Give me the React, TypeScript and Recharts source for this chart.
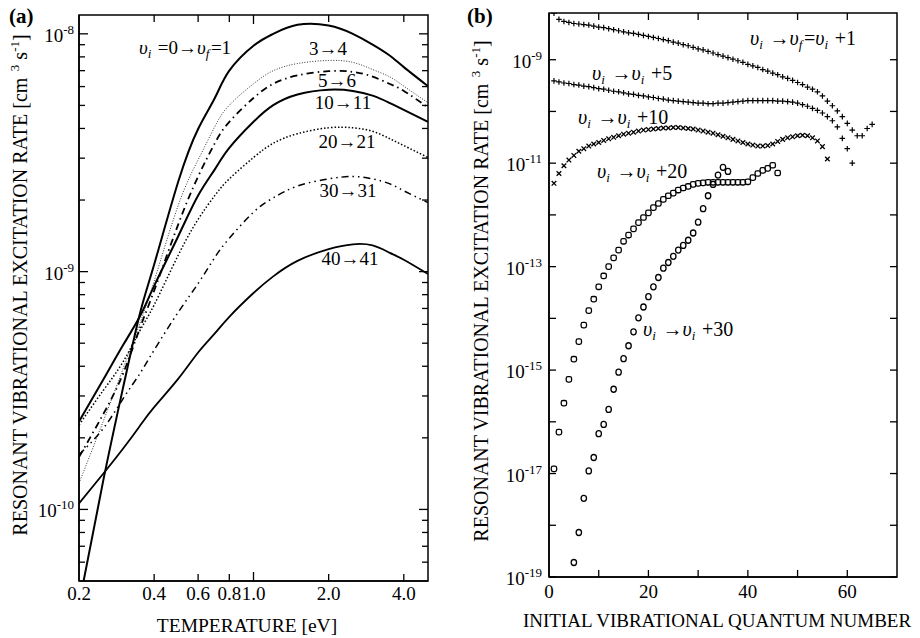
import { LineChart, Line, ScatterChart, Scatter, XAxis, YAxis } from 'recharts';

const SERIF = '"Liberation Serif", "Times New Roman", Times, serif';

// ---- (a) rate coefficient vs temperature, stored as log10(rate / cm^3 s^-1)
const temperatures = [0.2, 0.25, 0.3, 0.35, 0.4, 0.5, 0.6, 0.7, 0.8, 1.0, 1.2, 1.5, 2.0, 2.5, 3.0, 3.5, 4.0, 5.0];
const lgRate0to1 = [-10.4, -9.88, -9.49, -9.18, -8.97, -8.62, -8.4, -8.27, -8.155, -8.05, -8.0, -7.962, -7.965, -8.0, -8.045, -8.09, -8.14, -8.22];
const lgRate3to4 = [-9.89, -9.63, -9.41, -9.22, -9.04, -8.72, -8.53, -8.39, -8.3, -8.21, -8.155, -8.125, -8.112, -8.12, -8.15, -8.18, -8.22, -8.29];
const lgRate5to6 = [-9.78, -9.6, -9.43, -9.24, -9.08, -8.8, -8.6, -8.46, -8.37, -8.27, -8.21, -8.175, -8.157, -8.16, -8.18, -8.21, -8.24, -8.31];
const lgRate10to11 = [-9.63, -9.455, -9.31, -9.19, -9.06, -8.85, -8.68, -8.57, -8.48, -8.37, -8.3, -8.255, -8.235, -8.24, -8.26, -8.29, -8.32, -8.37];
const lgRate20to21 = [-9.645, -9.5, -9.38, -9.25, -9.14, -8.93, -8.78, -8.68, -8.61, -8.52, -8.46, -8.42, -8.395, -8.395, -8.41, -8.44, -8.47, -8.52];
const lgRate30to31 = [-9.77, -9.66, -9.535, -9.43, -9.33, -9.17, -9.05, -8.94, -8.86, -8.75, -8.69, -8.64, -8.61, -8.6, -8.61, -8.63, -8.66, -8.71];
const lgRate40to41 = [-9.975, -9.85, -9.745, -9.65, -9.57, -9.45, -9.34, -9.26, -9.19, -9.09, -9.02, -8.955, -8.905, -8.885, -8.89, -8.92, -8.95, -9.01];

const tempTicks = [0.2, 0.4, 0.6, 0.8, 1.0, 2.0, 4.0];
const rateTicksA = [
    6e-11, 7e-11, 8e-11, 9e-11, 1e-10, 2e-10, 3e-10, 4e-10, 5e-10, 6e-10, 7e-10, 8e-10, 9e-10,
    1e-9, 2e-9, 3e-9, 4e-9, 5e-9, 6e-9, 7e-9, 8e-9, 9e-9, 1e-8,
];

// ---- (b) rate vs initial level, log10 values, one entry per level starting at the given level
const startPlus1 = 1;
const lgPlus1 = [
    -8.1, -8.22, -8.26, -8.28, -8.3, -8.31, -8.32, -8.33, -8.35, -8.37,
    -8.38, -8.4, -8.42, -8.44, -8.46, -8.48, -8.49, -8.51, -8.53, -8.55,
    -8.57, -8.59, -8.61, -8.63, -8.66, -8.68, -8.71, -8.73, -8.76, -8.79,
    -8.81, -8.84, -8.87, -8.9, -8.93, -8.96, -8.99, -9.02, -9.05, -9.09,
    -9.12, -9.15, -9.19, -9.22, -9.26, -9.29, -9.33, -9.36, -9.4, -9.44,
    -9.48, -9.53, -9.57, -9.62, -9.7, -9.8, -9.89, -9.99, -10.1, -10.23,
    -10.36, -10.47, -10.47, -10.33, -10.25,
];
const startPlus5 = 1;
const lgPlus5 = [
    -9.41, -9.43, -9.45, -9.46, -9.48, -9.49, -9.51, -9.52, -9.54, -9.56,
    -9.57, -9.59, -9.61, -9.62, -9.64, -9.66, -9.67, -9.69, -9.7, -9.72,
    -9.73, -9.75, -9.76, -9.78, -9.79, -9.8, -9.81, -9.82, -9.83, -9.84,
    -9.84, -9.85, -9.85, -9.84, -9.84, -9.83, -9.82, -9.81, -9.8, -9.79,
    -9.79, -9.79, -9.79, -9.79, -9.79, -9.8, -9.8, -9.81, -9.82, -9.84,
    -9.87, -9.9, -9.94, -9.98, -10.03, -10.1, -10.18, -10.3, -10.52, -10.72,
    -11.0,
];
const startPlus10 = 1;
const lgPlus10 = [
    -11.39, -11.2, -11.05, -10.94, -10.85, -10.77, -10.72, -10.67, -10.63, -10.6,
    -10.56, -10.53, -10.5, -10.47, -10.44, -10.42, -10.4, -10.38, -10.36, -10.35,
    -10.34, -10.33, -10.32, -10.32, -10.31, -10.31, -10.32, -10.33, -10.34, -10.36,
    -10.38, -10.4, -10.42, -10.45, -10.48, -10.51, -10.54, -10.57, -10.6, -10.63,
    -10.65, -10.67, -10.67, -10.66, -10.63, -10.58, -10.54, -10.51, -10.49, -10.47,
    -10.46, -10.47, -10.51, -10.57, -10.68, -10.92,
];
const startPlus20 = 1;
const lgPlus20 = [
    -16.91, -16.2, -15.64, -15.18, -14.79, -14.45, -14.13, -13.85, -13.63, -13.39,
    -13.18, -13.0, -12.83, -12.68, -12.51, -12.39, -12.27, -12.15, -12.05, -11.96,
    -11.86, -11.78, -11.7, -11.63, -11.58, -11.52, -11.48, -11.45, -11.41, -11.39,
    -11.38, -11.37, -11.37, -11.37, -11.37, -11.37, -11.37, -11.37, -11.37, -11.36,
    -11.28, -11.2, -11.14, -11.1, -11.04, -11.19,
];
const startPlus30 = 5;
const lgPlus30 = [
    -18.72, -18.14, -17.48, -16.95, -16.69, -16.23, -16.05, -15.76, -15.37, -15.04,
    -14.78, -14.53, -14.26, -13.99, -13.78, -13.58, -13.39, -13.21, -13.03, -12.92,
    -12.8, -12.68, -12.59, -12.49, -12.35, -12.14, -11.88, -11.63, -11.41, -11.23,
    -11.08, -11.16,
];

const levelTicks = [0, 10, 20, 30, 40, 50, 60, 70];
const rateTicksB = [1e-19, 1e-18, 1e-17, 1e-16, 1e-15, 1e-14, 1e-13, 1e-12, 1e-11, 1e-10, 1e-9];

// plot-area boxes, in each chart's own coordinates
const PLOT_A = { left: 79, top: 15, w: 349, h: 566 };
const PLOT_B = { left: 89, top: 13, w: 348, h: 564 };

const rowsA = temperatures.map((t, i) => ({
    t,
    r0: 10 ** lgRate0to1[i],
    r3: 10 ** lgRate3to4[i],
    r5: 10 ** lgRate5to6[i],
    r10: 10 ** lgRate10to11[i],
    r20: 10 ** lgRate20to21[i],
    r30: 10 ** lgRate30to31[i],
    r40: 10 ** lgRate40to41[i],
}));

const toPoints = (start: number, lg: number[]) => lg.map((e, i) => ({ v: start + i, k: 10 ** e }));

const isDecade = (v: number) => {
    const e = Math.log10(v);
    return Math.abs(e - Math.round(e)) < 1e-6;
};

function PowerLabel({ x, y, exp }: { x: number; y: number; exp: number }) {
    return (
        <text x={x} y={y} textAnchor="end" fontFamily={SERIF} fontSize={19} fill="#000">
            10<tspan fontSize={13} dy={-8}>{`-${-exp}`}</tspan>
        </text>
    );
}

function RateTickA({ x, y, payload }: any) {
    const v = payload.value;
    const major = isDecade(v);
    const len = major ? 9 : 6;
    return (
        <g>
            <line x1={x} y1={y} x2={x + len} y2={y} stroke="#000" strokeWidth={1.3} />
            <line x1={x + PLOT_A.w} y1={y} x2={x + PLOT_A.w - len} y2={y} stroke="#000" strokeWidth={1.3} />
            {major && <PowerLabel x={x - 5} y={y + 8} exp={Math.round(Math.log10(v))} />}
        </g>
    );
}

function TempTick({ x, y, payload }: any) {
    const v = payload.value;
    const len = v === 1 ? 9 : 7;
    return (
        <g>
            {v > 0.2 && <line x1={x} y1={y} x2={x} y2={y - len} stroke="#000" strokeWidth={1.3} />}
            {v > 0.2 && <line x1={x} y1={y - PLOT_A.h} x2={x} y2={y - PLOT_A.h + len} stroke="#000" strokeWidth={1.3} />}
            <text x={x} y={y + 19} textAnchor="middle" fontFamily={SERIF} fontSize={19} fill="#000">
                {v.toFixed(1)}
            </text>
        </g>
    );
}

function RateTickB({ x, y, payload }: any) {
    const e = Math.round(Math.log10(payload.value));
    return (
        <g>
            <line x1={x} y1={y} x2={x + 7} y2={y} stroke="#000" strokeWidth={1.3} />
            <line x1={x + PLOT_B.w} y1={y} x2={x + PLOT_B.w - 7} y2={y} stroke="#000" strokeWidth={1.3} />
            {e % 2 !== 0 && <PowerLabel x={x - 7} y={y + 8} exp={e} />}
        </g>
    );
}

function LevelTick({ x, y, payload }: any) {
    const v = payload.value;
    const inner = v > 0 && v < 70;
    return (
        <g>
            {inner && <line x1={x} y1={y} x2={x} y2={y - 7} stroke="#000" strokeWidth={1.3} />}
            {inner && <line x1={x} y1={y - PLOT_B.h} x2={x} y2={y - PLOT_B.h + 7} stroke="#000" strokeWidth={1.3} />}
            {v % 20 === 0 && (
                <text x={x} y={y + 21} textAnchor="middle" fontFamily={SERIF} fontSize={19} fill="#000">
                    {v}
                </text>
            )}
        </g>
    );
}

// italic upsilon with a small subscript
function Ups({ sub }: { sub: string }) {
    return (
        <>
            <tspan fontStyle="italic">υ</tspan>
            <tspan fontStyle="italic" fontSize={13} dy={4}>{sub}</tspan>
            <tspan dy={-4}>{'\u200a'}</tspan>
        </>
    );
}

function Transition({ x, y, to }: { x: number; y: number; to: string }) {
    return (
        <text x={x} y={y} fontFamily={SERIF} fontSize={20} fill="#000">
            <Ups sub="i" />
            {' \u2192'}
            <Ups sub="i" />
            {` ${to}`}
        </text>
    );
}

function RateTitle({ x, y }: { x: number; y: number }) {
    return (
        <text transform={`translate(${x},${y}) rotate(-90)`} textAnchor="middle" fontFamily={SERIF} fontSize={20} fill="#000">
            RESONANT VIBRATIONAL EXCITATION RATE [cm
            <tspan fontSize={13} dy={-8}>{'\u00a0\u00a03'}</tspan>
            <tspan dy={8}>{' s'}</tspan>
            <tspan fontSize={13} dy={-8}>-1</tspan>
            <tspan dy={8}>]</tspan>
        </text>
    );
}

function CurveLabel({ x, y, text }: { x: number; y: number; text: string }) {
    return (
        <text x={x} y={y} textAnchor="middle" fontFamily={SERIF} fontSize={19} fill="#000">
            {text}
        </text>
    );
}

export default function App() {
    const line = { type: 'natural' as const, stroke: '#000', dot: false, isAnimationActive: false };

    return (
        <div style={{ position: 'fixed', left: 0, top: 0, width: 920, height: 638, background: '#fff' }}>
            <div style={{ position: 'absolute', left: 0, top: 0 }}>
                <LineChart width={460} height={638} data={rowsA} margin={{ top: 15, right: 32, bottom: 0, left: 0 }}>
                    <XAxis
                        dataKey="t"
                        type="number"
                        scale="log"
                        domain={[0.2, 5]}
                        allowDataOverflow
                        ticks={tempTicks}
                        interval={0}
                        height={57}
                        tickSize={0}
                        tickMargin={0}
                        tickLine={false}
                        axisLine={{ stroke: '#000', strokeWidth: 1.5 }}
                        tick={<TempTick />}
                    />
                    <YAxis
                        type="number"
                        scale="log"
                        domain={[5e-11, 1.2e-8]}
                        allowDataOverflow
                        ticks={rateTicksA}
                        interval={0}
                        width={79}
                        tickSize={0}
                        tickMargin={0}
                        tickLine={false}
                        axisLine={{ stroke: '#000', strokeWidth: 1.5 }}
                        tick={<RateTickA />}
                    />
                    <Line {...line} dataKey="r0" strokeWidth={2} />
                    <Line {...line} dataKey="r3" strokeWidth={0.8} strokeDasharray="1 1.6" />
                    <Line {...line} dataKey="r5" strokeWidth={1.8} strokeDasharray="7 4 1.5 4" />
                    <Line {...line} dataKey="r10" strokeWidth={2} />
                    <Line {...line} dataKey="r20" strokeWidth={1.5} strokeDasharray="1.5 2" />
                    <Line {...line} dataKey="r30" strokeWidth={1.5} strokeDasharray="7 4 1.5 4 1.5 4" />
                    <Line {...line} dataKey="r40" strokeWidth={1.8} />

                    <rect x={PLOT_A.left} y={PLOT_A.top} width={PLOT_A.w} height={PLOT_A.h} fill="none" stroke="#000" strokeWidth={1.5} />
                    <text x={9} y={23} fontFamily={SERIF} fontSize={21} fontWeight="bold" fill="#000">(a)</text>
                    <text x={139} y={54} fontFamily={SERIF} fontSize={19} fill="#000">
                        <Ups sub="i" />
                        {' =0\u2192'}
                        <Ups sub="f" />
                        =1
                    </text>
                    <CurveLabel x={328} y={55} text={'3\u21924'} />
                    <CurveLabel x={337} y={87} text={'5\u21926'} />
                    <CurveLabel x={343} y={109} text={'10\u219211'} />
                    <CurveLabel x={347} y={148} text={'20\u219221'} />
                    <CurveLabel x={348} y={197} text={'30\u219231'} />
                    <CurveLabel x={350} y={265} text={'40\u219241'} />
                    <text x={247} y={632} textAnchor="middle" fontFamily={SERIF} fontSize={19.5} fill="#000">
                        TEMPERATURE [eV]
                    </text>
                    <RateTitle x={27} y={285} />
                </LineChart>
            </div>

            <div style={{ position: 'absolute', left: 460, top: 0 }}>
                <ScatterChart width={460} height={638} margin={{ top: 13, right: 23, bottom: 0, left: 0 }}>
                    <XAxis
                        dataKey="v"
                        type="number"
                        domain={[0, 70]}
                        allowDataOverflow
                        ticks={levelTicks}
                        interval={0}
                        height={61}
                        tickSize={0}
                        tickMargin={0}
                        tickLine={false}
                        axisLine={{ stroke: '#000', strokeWidth: 1.5 }}
                        tick={<LevelTick />}
                    />
                    <YAxis
                        dataKey="k"
                        type="number"
                        scale="log"
                        domain={[1e-19, 8e-9]}
                        allowDataOverflow
                        ticks={rateTicksB}
                        interval={0}
                        width={89}
                        tickSize={0}
                        tickMargin={0}
                        tickLine={false}
                        axisLine={{ stroke: '#000', strokeWidth: 1.5 }}
                        tick={<RateTickB />}
                    />
                    <Scatter
                        data={toPoints(startPlus1, lgPlus1)}
                        isAnimationActive={false}
                        shape={(p: any) => (
                            <path d={`M${p.cx - 2.8},${p.cy}h5.6M${p.cx},${p.cy - 2.8}v5.6`} stroke="#000" strokeWidth={1.2} fill="none" />
                        )}
                    />
                    <Scatter
                        data={toPoints(startPlus5, lgPlus5)}
                        isAnimationActive={false}
                        shape={(p: any) => (
                            <path d={`M${p.cx - 2.8},${p.cy}h5.6M${p.cx},${p.cy - 2.8}v5.6`} stroke="#000" strokeWidth={1.2} fill="none" />
                        )}
                    />
                    <Scatter
                        data={toPoints(startPlus10, lgPlus10)}
                        isAnimationActive={false}
                        shape={(p: any) => (
                            <path
                                d={`M${p.cx - 2.3},${p.cy - 2.3}l4.6,4.6M${p.cx - 2.3},${p.cy + 2.3}l4.6,-4.6`}
                                stroke="#000"
                                strokeWidth={1.3}
                                fill="none"
                            />
                        )}
                    />
                    <Scatter
                        data={toPoints(startPlus20, lgPlus20)}
                        isAnimationActive={false}
                        shape={(p: any) => (
                            <rect x={p.cx - 2.7} y={p.cy - 2.7} width={5.4} height={5.4} rx={1.8} fill="none" stroke="#000" strokeWidth={1.3} />
                        )}
                    />
                    <Scatter
                        data={toPoints(startPlus30, lgPlus30)}
                        isAnimationActive={false}
                        shape={(p: any) => <ellipse cx={p.cx} cy={p.cy} rx={2.7} ry={3} fill="none" stroke="#000" strokeWidth={1.3} />}
                    />

                    <rect x={PLOT_B.left} y={PLOT_B.top} width={PLOT_B.w} height={PLOT_B.h} fill="none" stroke="#000" strokeWidth={1.5} />
                    <text x={7} y={23} fontFamily={SERIF} fontSize={21} fontWeight="bold" fill="#000">(b)</text>
                    <text x={290} y={45} fontFamily={SERIF} fontSize={20} fill="#000">
                        <Ups sub="i" />
                        {' \u2192'}
                        <Ups sub="f" />
                        =
                        <Ups sub="i" />
                        {' +1'}
                    </text>
                    <Transition x={132} y={80} to="+5" />
                    <Transition x={118} y={124} to="+10" />
                    <Transition x={137} y={178} to="+20" />
                    <Transition x={183} y={336} to="+30" />
                    <text x={257} y={627} textAnchor="middle" fontFamily={SERIF} fontSize={19} fill="#000">
                        INITIAL VIBRATIONAL QUANTUM NUMBER
                    </text>
                    <RateTitle x={28} y={291} />
                </ScatterChart>
            </div>
        </div>
    );
}
